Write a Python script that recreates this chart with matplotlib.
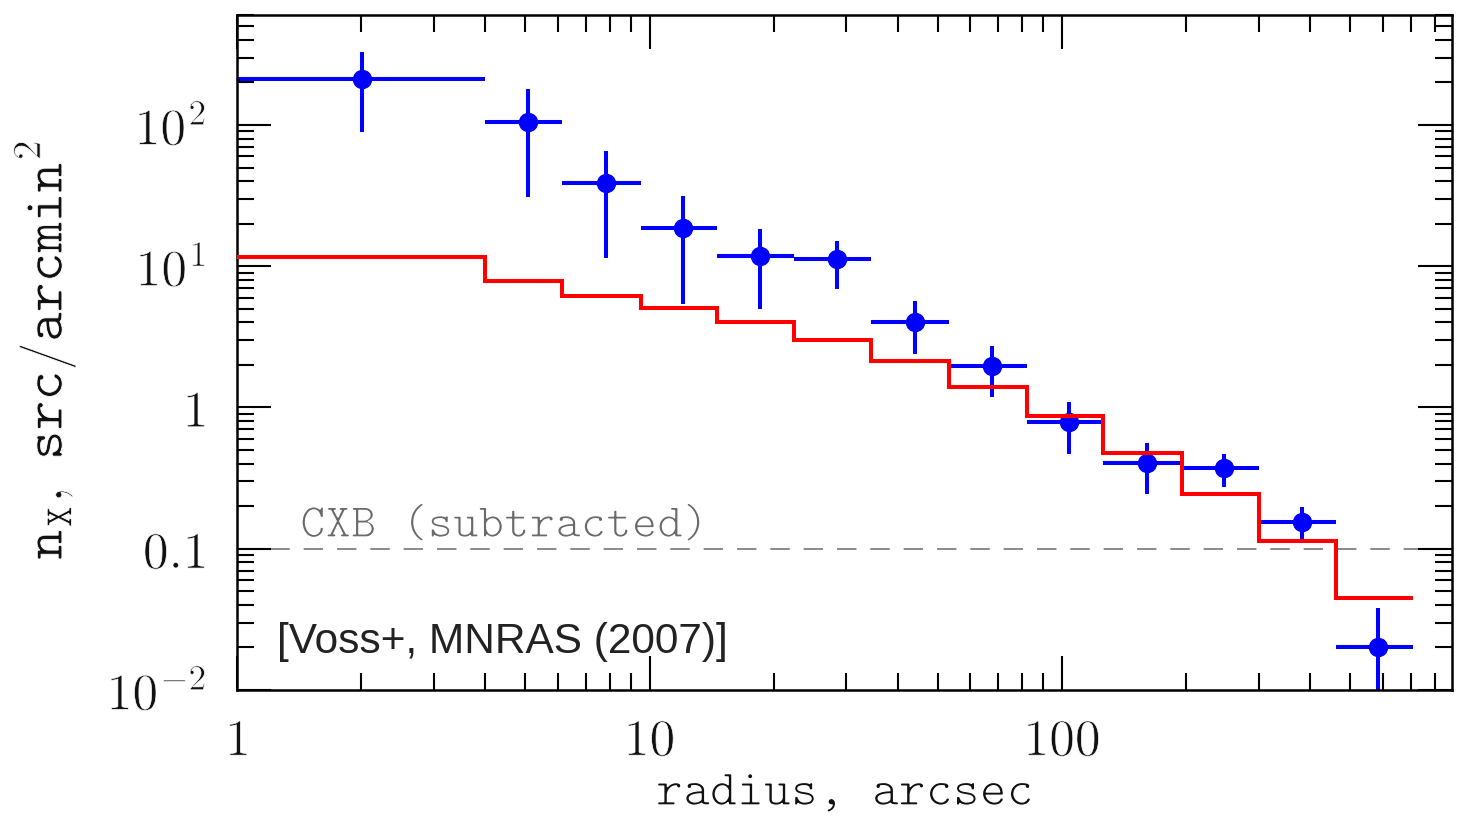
import numpy as np
import matplotlib
matplotlib.use("Agg")
import matplotlib.pyplot as plt
import matplotlib.patheffects as pe
from matplotlib.ticker import FixedLocator, FixedFormatter, NullFormatter, LogLocator

plt.rcParams['mathtext.fontset'] = 'cm'
plt.rcParams['lines.scale_dashes'] = False

# ---- data ----
bin_edges = [1.0, 4.0, 6.13, 9.55, 14.6, 22.45, 34.4, 53.3, 82.1, 126.0, 195.0, 300.5, 461.6, 708.0]
model_values = [11.7, 7.9, 6.19, 5.09, 4.05, 3.01, 2.13, 1.40, 0.871, 0.479, 0.243, 0.114, 0.045]

obs_x = [2.01, 5.07, 7.86, 12.08, 18.53, 28.5, 44.0, 67.8, 104.0, 160.4, 247.0, 381.0, 584.5]
obs_y = [210.7, 105.6, 38.6, 18.56, 11.82, 11.19, 4.05, 1.97, 0.794, 0.406, 0.374, 0.154, 0.0201]
obs_y_hi = [330.0, 178.9, 65.8, 31.4, 18.35, 15.15, 5.70, 2.72, 1.10, 0.565, 0.471, 0.198, 0.0379]
obs_y_lo = [89.7, 31.1, 11.4, 5.38, 4.96, 6.94, 2.38, 1.19, 0.469, 0.243, 0.272, 0.109, 0.005]

cxb_level = 0.1

y_tick_vals = [0.01, 0.1, 1, 10, 100]
y_tick_labels = [r'$\mathtt{10^{-2}}$', r'$\mathtt{0.1}$', r'$\mathtt{1}$', r'$\mathtt{10^{1}}$', r'$\mathtt{10^{2}}$']
x_tick_vals = [1, 10, 100]
x_tick_labels = [r'$\mathtt{1}$', r'$\mathtt{10}$', r'$\mathtt{100}$']

# ---- figure ----
W, H = 1468, 816
fig = plt.figure(figsize=(W / 100, H / 100), dpi=100)
ax = fig.add_axes([237 / W, (H - 690) / H, 1215 / W, 675 / H])
ax.set_xscale('log')
ax.set_yscale('log')
ax.set_xlim(1, 10 ** ((1452 - 237) / 412.5))
ax.set_ylim(0.01, 10 ** (2 + 110 / 141.25))

thin = [pe.Stroke(linewidth=1.0, foreground='white')]

# CXB dashed line
ax.axhline(cxb_level, color='#808080', lw=1.3, ls=(0, (14, 10)), zorder=1)

# observed points
ox = np.array(obs_x)
oy = np.array(obs_y)
edges = np.array(bin_edges)
xerr = np.vstack([ox - edges[:-1], edges[1:] - ox])
yerr = np.vstack([oy - np.array(obs_y_lo), np.array(obs_y_hi) - oy])
ax.errorbar(ox, oy, xerr=xerr, yerr=yerr, fmt='o', color='#0000ff',
            ms=13, elinewidth=2.9, capsize=0, zorder=2)

# model step line
ax.stairs(model_values, bin_edges, baseline=None, color='#ff0000', lw=2.9, zorder=3)

# ticks
ax.yaxis.set_major_locator(FixedLocator(y_tick_vals))
ax.yaxis.set_major_formatter(FixedFormatter(y_tick_labels))
ax.yaxis.set_minor_locator(LogLocator(base=10, subs=np.arange(2, 10), numticks=20))
ax.yaxis.set_minor_formatter(NullFormatter())
ax.xaxis.set_major_locator(FixedLocator(x_tick_vals))
ax.xaxis.set_major_formatter(FixedFormatter(x_tick_labels))
ax.xaxis.set_minor_locator(LogLocator(base=10, subs=np.arange(2, 10), numticks=20))
ax.xaxis.set_minor_formatter(NullFormatter())

ax.tick_params(which='both', direction='in', top=True, right=True, colors='black')
ax.tick_params(which='major', length=24.5, width=1.5)
ax.tick_params(which='minor', length=12, width=1.5)
ax.tick_params(axis='y', which='major', labelsize=37, pad=22)
ax.tick_params(axis='x', which='major', labelsize=37, pad=19)
for s in ax.spines.values():
    s.set_linewidth(1.8)
for lab in ax.get_xticklabels() + ax.get_yticklabels():
    lab.set_path_effects([pe.Stroke(linewidth=0.5, foreground='white')])
    lab.set_color('#111111')

# texts
ax.text((300 - 237) / 1215, (690 - 537) / 675, 'CXB (subtracted)', transform=ax.transAxes,
        family='cmtt10', fontsize=35, color='#6a6a6a', ha='left', va='baseline',
        path_effects=thin)
ax.text((277 - 237) / 1215, (690 - 642) / 675, '[Voss+, MNRAS (2007)]', transform=ax.transAxes,
        family='Liberation Sans', fontsize=30.5, color='#222222', ha='left', va='center')

fig.text(845 / W, 1 - 805 / H, 'radius, arcsec', family='cmtt10', fontsize=37,
         ha='center', va='baseline', color='#111111', path_effects=thin)
fig.text(62 / W, 1 - 350 / H, r'$\mathtt{n_X,\ src/arcmin^2}$', fontsize=41,
         rotation=90, rotation_mode='anchor', ha='center', va='baseline',
         color='#111111', path_effects=[pe.Stroke(linewidth=0.6, foreground='white')])

fig.savefig('out.png', dpi=100)
